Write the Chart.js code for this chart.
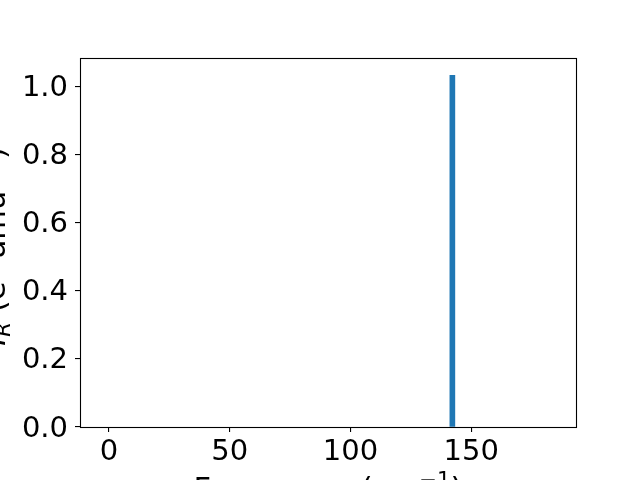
<!DOCTYPE html>
<html>
<head>
<meta charset="utf-8">
<script src="https://cdn.jsdelivr.net/npm/chart.js@4/dist/chart.umd.min.js"></script>
<style>
html,body{margin:0;padding:0;background:#fff;overflow:hidden;}
canvas{display:block;}
</style>
</head>
<body>
<canvas id="c" width="640" height="480"></canvas>
<script>
// ---- data ----
const frequencies = [142.2];
const intensities = [1.033];
const xTickValues = [0, 50, 100, 150];
const yTickValues = [0.0, 0.2, 0.4, 0.6, 0.8, 1.0];
const xRange = [-12, 193.4];
const yRange = [0, 1.084];
const xTitle = ['Frequency (cm', {sup: '−1'}, ')'];
const yTitle = [{it: 'I'}, {sub: 'R', it: true}, ' (e', {sup: '2'}, ' amu', {sup: '−1'}, ')'];

const FONT = 'DejaVu Sans';
const FS = 29;     // tick labels
const LFS = 30.5;  // axis titles

function drawRich(ctx, parts, size) {
  const pieces = parts.map(p => {
    if (typeof p === 'string') return {t: p, s: size, dy: 0, it: false};
    if (p.sub) return {t: p.sub, s: size * 0.7, dy: size * 0.15, it: !!p.it};
    if (p.sup) return {t: p.sup, s: size * 0.7, dy: -size * 0.38, it: false};
    if (p.it) return {t: p.it, s: size, dy: 0, it: true};
  });
  let w = 0;
  pieces.forEach(p => {
    ctx.font = (p.it ? 'italic ' : '') + p.s + 'px "' + FONT + '"';
    p.w = ctx.measureText(p.t).width;
    w += p.w;
  });
  let x = -w / 2;
  ctx.textBaseline = 'alphabetic';
  ctx.textAlign = 'left';
  pieces.forEach(p => {
    ctx.font = (p.it ? 'italic ' : '') + p.s + 'px "' + FONT + '"';
    ctx.fillText(p.t, x, p.dy);
    x += p.w;
  });
}

const framePlugin = {
  id: 'frame',
  afterDatasetsDraw(chart) {
    const a = chart.chartArea, ctx = chart.ctx;
    ctx.save();
    ctx.strokeStyle = '#000';
    ctx.lineWidth = 1.1;
    ctx.strokeRect(Math.round(a.left) + 0.5, Math.round(a.top) + 0.5,
      Math.round(a.right - a.left), Math.round(a.bottom - a.top));
    ctx.restore();
  },
  afterDraw(chart) {
    const a = chart.chartArea, ctx = chart.ctx;
    ctx.save();
    ctx.fillStyle = '#000';
    ctx.translate((a.left + a.right) / 2, a.bottom + 72);
    drawRich(ctx, xTitle, LFS);
    ctx.restore();
    ctx.save();
    ctx.fillStyle = '#000';
    ctx.translate(a.left - 75, (a.top + a.bottom) / 2 + 4);
    ctx.rotate(-Math.PI / 2);
    drawRich(ctx, yTitle, LFS);
    ctx.restore();
  }
};

new Chart(document.getElementById('c'), {
  type: 'bar',
  data: {
    datasets: [{
      data: frequencies.map((f, i) => ({x: f, y: intensities[i]})),
      backgroundColor: '#1f77b4',
      borderWidth: 0,
      barThickness: 5
    }]
  },
  options: {
    responsive: false,
    animation: false,
    events: [],
    layout: {padding: {left: 0, top: 58, right: 64, bottom: 0}},
    plugins: {legend: {display: false}, tooltip: {enabled: false}},
    scales: {
      x: {
        type: 'linear',
        min: xRange[0], max: xRange[1],
        offset: false,
        afterBuildTicks: s => { s.ticks = xTickValues.map(v => ({value: v})); },
        afterFit: s => { s.height = 53; },
        grid: {offset: false, drawOnChartArea: false, drawTicks: true, tickLength: 5, color: '#000', lineWidth: 1.1},
        border: {display: false},
        ticks: {color: '#000', font: {family: FONT, size: FS}, padding: 3, maxRotation: 0, autoSkip: false,
          callback: v => String(v)}
      },
      y: {
        type: 'linear',
        min: yRange[0], max: yRange[1],
        afterBuildTicks: s => { s.ticks = yTickValues.map(v => ({value: v})); },
        afterFit: s => { s.width = 80; },
        grid: {drawOnChartArea: false, drawTicks: true, tickLength: 5, color: '#000', lineWidth: 1.1},
        border: {display: false},
        ticks: {color: '#000', font: {family: FONT, size: FS}, padding: 7, labelOffset: 2, autoSkip: false,
          callback: v => v.toFixed(1)}
      }
    }
  },
  plugins: [framePlugin]
});
</script>
</body>
</html>
